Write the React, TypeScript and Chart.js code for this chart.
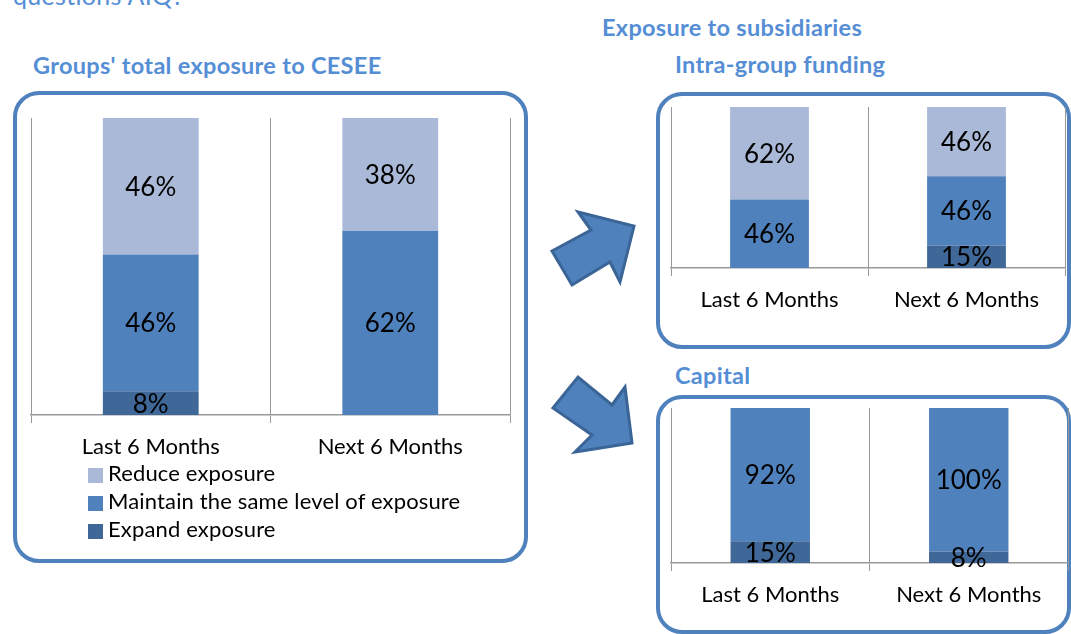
import React, { useEffect, useRef } from "react";
import { Chart, registerables } from "chart.js";
Chart.register(...registerables);

const CATEGORIES = ["Last 6 Months", "Next 6 Months"];
const SERIES_NAMES = ["Reduce exposure", "Maintain the same level of exposure", "Expand exposure"];

// Groups' total exposure to CESEE (raw % answers)
const TOTAL_REDUCE = [46, 38];
const TOTAL_MAINTAIN = [46, 62];
const TOTAL_EXPAND = [8, 0];

// Exposure to subsidiaries: Intra-group funding
const FUNDING_REDUCE = [62, 46];
const FUNDING_MAINTAIN = [46, 46];
const FUNDING_EXPAND = [0, 15];

// Exposure to subsidiaries: Capital
const CAPITAL_REDUCE = [0, 0];
const CAPITAL_MAINTAIN = [92, 100];
const CAPITAL_EXPAND = [15, 8];

const FONT = "Lato, 'Open Sans', sans-serif";
const C_REDUCE = "#AAB9D7";
const C_MAINTAIN = "#4F81BD";
const C_EXPAND = "#3F6797";
const GRID = "#999999";
const BLUE_TITLE = "#558ED5";
const BORDER_BLUE = "#4F81BD";

const LABEL_SIZE = 22;
const VALUE_SIZE = 26;
const AXIS_H = 50;

const valueLabels = {
  id: "valueLabels",
  afterDatasetsDraw(chart: any) {
    const ctx = chart.ctx;
    ctx.save();
    ctx.font = `${VALUE_SIZE}px ${FONT}`;
    ctx.fillStyle = "#000";
    ctx.textAlign = "center";
    ctx.textBaseline = "middle";
    chart.data.datasets.forEach((ds: any, i: number) => {
      const meta = chart.getDatasetMeta(i);
      meta.data.forEach((el: any, j: number) => {
        const v = ds.rawValues[j];
        if (!v) return;
        const p = el.getProps(["x", "y", "base"], true);
        ctx.fillText(`${v}%`, p.x, (p.y + p.base) / 2 + 1);
      });
    });
    ctx.restore();
  },
};

function normalize(a: number[], b: number[], c: number[]) {
  return a.map((_, i) => {
    const t = a[i] + b[i] + c[i];
    return [a[i] / t * 100, b[i] / t * 100, c[i] / t * 100];
  });
}

type PanelProps = {
  plotLeft: number;
  plotTop: number;
  plotRight: number;
  axisY: number;
  padR: number;
  reduce: number[];
  maintain: number[];
  expand: number[];
};

function StackedPanel({ plotLeft, plotTop, plotRight, axisY, padR, reduce, maintain, expand }: PanelProps) {
  const ref = useRef<HTMLCanvasElement>(null);
  const padL = 10;
  const padT = 10;
  const width = padL + (plotRight - plotLeft) + padR;
  const height = padT + (axisY - plotTop) + AXIS_H;

  useEffect(() => {
    const norm = normalize(expand, maintain, reduce);
    const chart = new Chart(ref.current as HTMLCanvasElement, {
      type: "bar",
      data: {
        labels: CATEGORIES,
        datasets: [
          { label: SERIES_NAMES[2], data: norm.map((n) => n[0]), rawValues: expand, backgroundColor: C_EXPAND } as any,
          { label: SERIES_NAMES[1], data: norm.map((n) => n[1]), rawValues: maintain, backgroundColor: C_MAINTAIN } as any,
          { label: SERIES_NAMES[0], data: norm.map((n) => n[2]), rawValues: reduce, backgroundColor: C_REDUCE } as any,
        ],
      },
      options: {
        responsive: false,
        animation: false,
        devicePixelRatio: 1,
        layout: { padding: { left: padL, right: padR, top: padT, bottom: 0 } },
        plugins: { legend: { display: false }, tooltip: { enabled: false }, title: { display: false } },
        datasets: { bar: { categoryPercentage: 1, barPercentage: 0.4 } },
        scales: {
          x: {
            stacked: true,
            offset: true,
            grid: { display: true, offset: true, color: GRID, lineWidth: 1, drawOnChartArea: true, drawTicks: true, tickLength: 8 },
            border: { display: true, color: GRID, width: 1.5 },
            ticks: { color: "#000", font: { family: FONT, size: LABEL_SIZE }, padding: 11, maxRotation: 0, autoSkip: false },
            afterFit: (s: any) => { s.height = AXIS_H; },
          },
          y: { stacked: true, display: false, min: 0, max: 100 },
        },
      } as any,
      plugins: [valueLabels],
    });
    return () => chart.destroy();
  }, []);

  return (
    <canvas
      ref={ref}
      width={width}
      height={height}
      style={{ position: "absolute", left: plotLeft - padL, top: plotTop - padT, width, height }}
    />
  );
}

function Title({ text, x, baseline, size, bold = true }: { text: string; x: number; baseline: number; size: number; bold?: boolean }) {
  return (
    <div
      style={{
        position: "absolute",
        left: x,
        top: baseline - 0.987 * size,
        fontFamily: FONT,
        fontSize: size,
        lineHeight: `${size * 1.2}px`,
        fontWeight: bold ? 700 : 400,
        letterSpacing: "0.3px",
        color: BLUE_TITLE,
        whiteSpace: "nowrap",
      }}
    >
      {text}
    </div>
  );
}

function Box({ left, top, width, height }: { left: number; top: number; width: number; height: number }) {
  return (
    <div
      style={{
        position: "absolute",
        left,
        top,
        width,
        height,
        boxSizing: "border-box",
        border: `4px solid ${BORDER_BLUE}`,
        borderRadius: 26,
      }}
    />
  );
}

const LEGEND_ITEMS = [
  { name: SERIES_NAMES[0], color: C_REDUCE },
  { name: SERIES_NAMES[1], color: C_MAINTAIN },
  { name: SERIES_NAMES[2], color: C_EXPAND },
];

const TITLE_SIZE = 23.5;

export default function App() {
  return (
    <div style={{ position: "absolute", left: 0, top: 0, width: 1071, height: 634, overflow: "hidden", background: "#fff" }}>
      <Title text="questions AIQ?" x={13} baseline={5} size={25} bold={false} />
      <Title text="Groups' total exposure to CESEE" x={33} baseline={74} size={TITLE_SIZE} />
      <Title text="Exposure to subsidiaries" x={602} baseline={36} size={TITLE_SIZE} />
      <Title text="Intra-group funding" x={675} baseline={73} size={TITLE_SIZE} />
      <Title text="Capital" x={675} baseline={384} size={TITLE_SIZE} />

      <Box left={13} top={91} width={515} height={472} />
      <Box left={656} top={92} width={415} height={257} />
      <Box left={656} top={395} width={415} height={239} />

      <StackedPanel plotLeft={31} plotTop={118} plotRight={510} axisY={415} padR={10}
        reduce={TOTAL_REDUCE} maintain={TOTAL_MAINTAIN} expand={TOTAL_EXPAND} />
      <StackedPanel plotLeft={671} plotTop={107} plotRight={1065} axisY={268} padR={6}
        reduce={FUNDING_REDUCE} maintain={FUNDING_MAINTAIN} expand={FUNDING_EXPAND} />
      <StackedPanel plotLeft={671} plotTop={408} plotRight={1068} axisY={563} padR={3}
        reduce={CAPITAL_REDUCE} maintain={CAPITAL_MAINTAIN} expand={CAPITAL_EXPAND} />

      {LEGEND_ITEMS.map((it, i) => (
        <div key={it.name} style={{ position: "absolute", left: 88, top: 467 + i * 28, height: 16, display: "flex", alignItems: "center" }}>
          <div style={{ width: 15, height: 15, background: it.color }} />
          <div style={{ position: "absolute", left: 20, top: 15 - 0.987 * LABEL_SIZE, fontFamily: FONT, fontSize: LABEL_SIZE, lineHeight: `${LABEL_SIZE * 1.2}px`, letterSpacing: "0.15px", whiteSpace: "nowrap", color: "#000" }}>
            {it.name}
          </div>
        </div>
      ))}

      <svg width={1071} height={634} style={{ position: "absolute", left: 0, top: 0, pointerEvents: "none" }}>
        <polygon points="552,251 591,230 578,212 634,226 620,282 610,262 572,285"
          fill="#4F81BD" stroke="#3A6596" strokeWidth={3} strokeLinejoin="miter" />
        <polygon points="553,408 578,377 612,405 625,387 632,443 575,452 592,435"
          fill="#4F81BD" stroke="#3A6596" strokeWidth={3} strokeLinejoin="miter" />
      </svg>
    </div>
  );
}
